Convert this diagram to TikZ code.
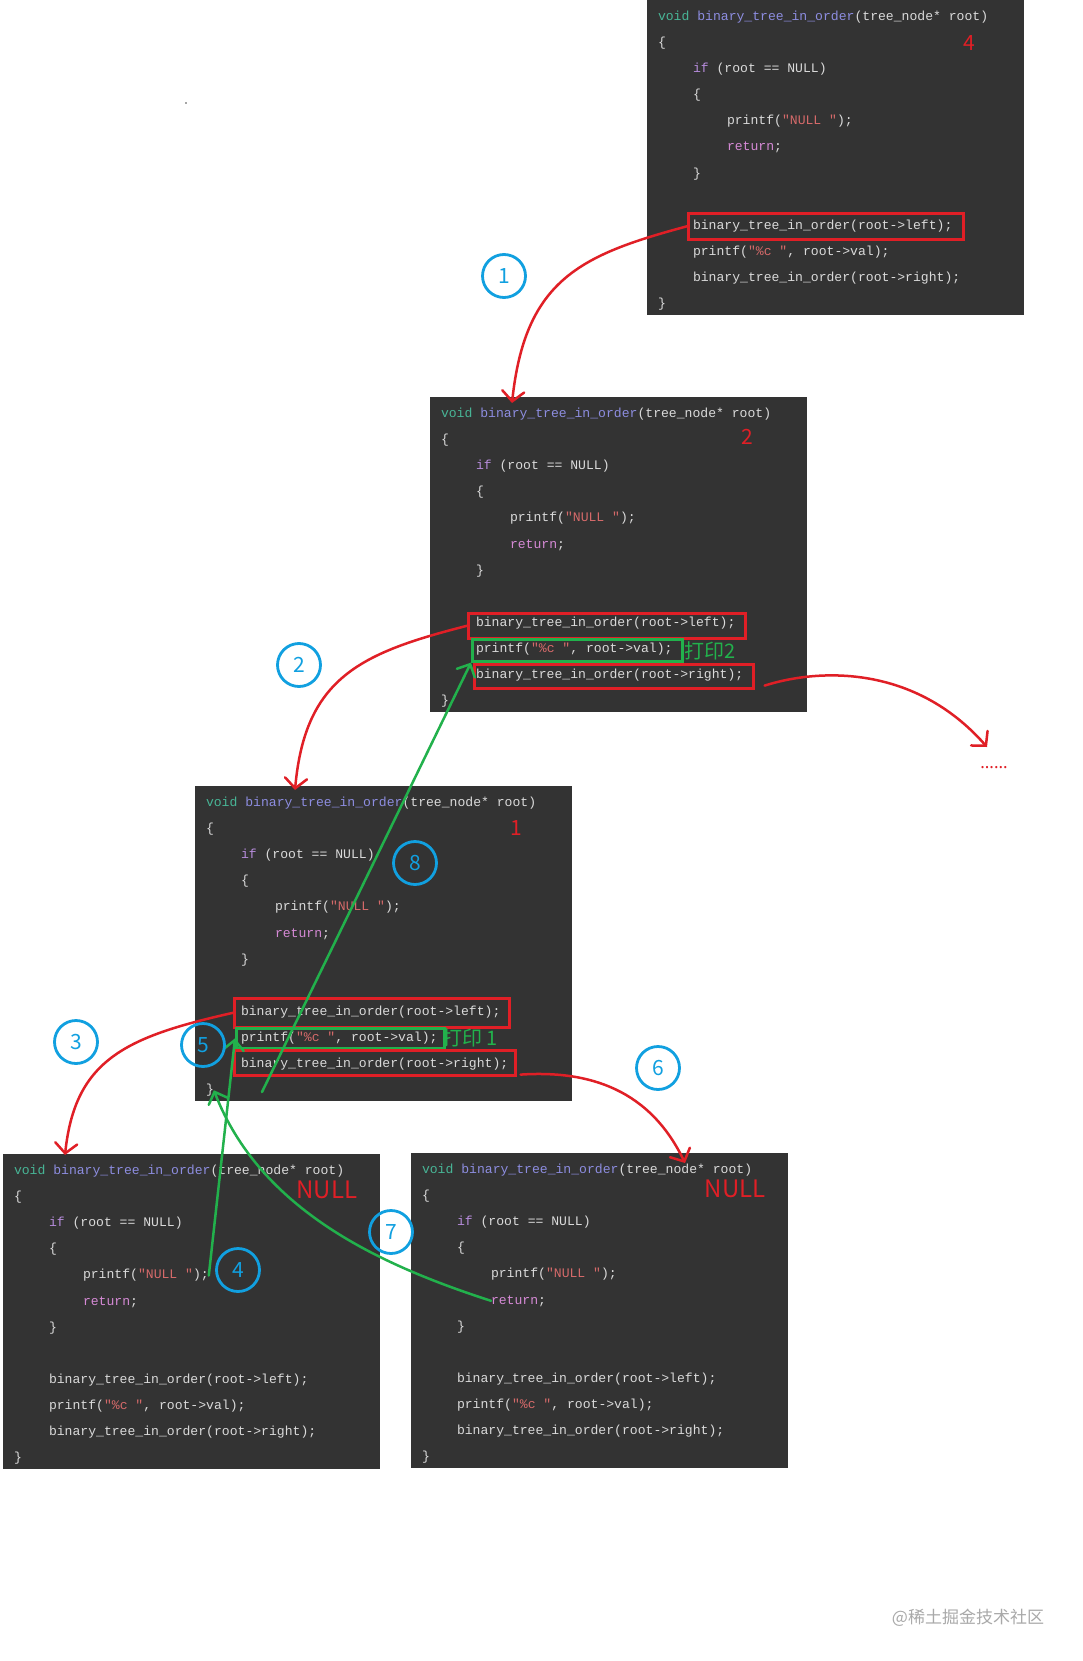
\documentclass[tikz,border=0pt]{standalone}
\usepackage{fontspec}
\setmonofont{Liberation Mono}
\newfontfamily\cjkfont{Noto Sans CJK SC}
\newfontfamily\latinsans{Noto Sans}
\usetikzlibrary{arrows.meta}
\definecolor{codebg}{HTML}{333333}
\definecolor{codefg}{HTML}{DADADA}
\definecolor{cvoidc}{HTML}{48B596}
\definecolor{cfnc}{HTML}{8D8DE0}
\definecolor{cifc}{HTML}{B68CDB}
\definecolor{cretc}{HTML}{D68AD6}
\definecolor{cstrc}{HTML}{D66A6A}
\definecolor{annred}{HTML}{E01F26}
\definecolor{anngreen}{HTML}{22B14C}
\definecolor{annblue}{HTML}{11A0E0}
\definecolor{wmgrey}{HTML}{A9A9A9}
\newcommand\cVoid[1]{\textcolor{cvoidc}{#1}}
\newcommand\cFn[1]{\textcolor{cfnc}{#1}}
\newcommand\cIf[1]{\textcolor{cifc}{#1}}
\newcommand\cRet[1]{\textcolor{cretc}{#1}}
\newcommand\cStr[1]{\textcolor{cstrc}{#1}}
\tikzset{
  bgbox/.style={anchor=north west, fill=codebg, draw=none, inner sep=0pt, minimum width=377pt, minimum height=315pt},
  code/.style={anchor=base west, inner sep=0pt, outer sep=0pt, text=codefg, font=\ttfamily\fontsize{13.1}{15}\selectfont},
  hlred/.style={anchor=north west, draw=annred, line width=2.6pt, inner sep=0pt},
  hlgreen/.style={anchor=north west, draw=anngreen, line width=2.6pt, inner sep=0pt},
  redarrow/.style={draw=annred, line width=2.5pt, line cap=round, line join=round, -{Straight Barb[length=10pt,width=22pt,line cap=round]}},
  greenarrow/.style={draw=anngreen, line width=2.5pt, line cap=round, line join=round, -{Straight Barb[length=10pt,width=20pt,line cap=round]}},
  numcirc/.style={circle, draw=annblue, line width=2.8pt, minimum size=43pt, inner sep=0pt, text=annblue, font=\cjkfont\fontsize{21}{21}\selectfont},
  redlbl/.style={inner sep=0pt, text=annred, font=\cjkfont\fontsize{21}{21}\selectfont},
  greenlbl/.style={anchor=west, inner sep=0pt, text=anngreen, font=\cjkfont\fontsize{20}{20}\selectfont},
}
\newcommand\codebox[3]{%
\begin{scope}[shift={(#2,#3)}]
\node[bgbox] (#1) at (0,0) {};
\node[code] (#1-0) at (11,20.5) {\cVoid{void} \cFn{binary\_tree\_in\_order}(tree\_node* root)};
\node[code] (#1-1) at (11,46.6) {\{};
\node[code] (#1-2) at (46,72.7) {\cIf{if} (root == NULL)};
\node[code] (#1-3) at (46,98.8) {\{};
\node[code] (#1-4) at (80,124.9) {printf(\cStr{"NULL "});};
\node[code] (#1-5) at (80,151) {\cRet{return};};
\node[code] (#1-6) at (46,177.1) {\}};
\node[code] (#1-8) at (46,229.3) {binary\_tree\_in\_order(root->left);};
\node[code] (#1-9) at (46,255.4) {printf(\cStr{"\%c "}, root->val);};
\node[code] (#1-10) at (46,281.5) {binary\_tree\_in\_order(root->right);};
\node[code] (#1-11) at (11,307.6) {\}};
\end{scope}}
\begin{document}
\begin{tikzpicture}[x=1pt,y=-1pt]
\fill[white] (0,0) rectangle (1082,1661);
\useasboundingbox (0,0) rectangle (1082,1661);
% code boxes
\codebox{A}{647}{0}
\codebox{B}{430}{397}
\codebox{C}{195}{786}
\codebox{D}{3}{1154}
\codebox{E}{411}{1153}
% highlight rectangles
\node[hlred, minimum width=275pt, minimum height=26pt] (rA) at (687,212) {};
\node[hlred, minimum width=277pt, minimum height=25pt] (rBl) at (467,612) {};
\node[hlgreen, minimum width=210pt, minimum height=22pt] (rBg) at (471,638) {};
\node[hlred, minimum width=279pt, minimum height=24pt] (rBr) at (473,663) {};
\node[hlred, minimum width=275pt, minimum height=29pt] (rCl) at (233,997) {};
\node[hlgreen, minimum width=208pt, minimum height=20pt] (rCg) at (235,1027) {};
\node[hlred, minimum width=281pt, minimum height=25pt] (rCr) at (233,1049) {};
% step labels
\node[redlbl] (nA) at (969,43) {4};
\node[redlbl] (nB) at (747,437) {2};
\node[redlbl] (nC) at (516,828) {1};
\node[redlbl, font=\cjkfont\fontsize{24}{24}\selectfont] (nD) at (327,1190) {NULL};
\node[redlbl, font=\cjkfont\fontsize{24}{24}\selectfont] (nE) at (735,1189) {NULL};
\node[greenlbl] (pB) at (684,651) {打印2};
\node[greenlbl] (pC) at (442,1038) {打印 1};
% free ends
\coordinate (tB) at (512,403);
\coordinate (tC) at (295,790);
\coordinate (tD) at (65,1155);
\coordinate (tE) at (685,1163);
\coordinate (tR) at (987,747);
\coordinate (g8s) at (262,1092);
% red call arrows
\draw[redarrow] (rA.west) .. controls (580,255) and (525,280) .. (tB);
\draw[redarrow] (rBl.west) .. controls (360,653) and (305,678) .. (tC);
\draw[redarrow] (rCl.west) .. controls (125,1037) and (75,1060) .. (tD);
\draw[redarrow] ([shift={(4pt,2pt)}]rCr.south east) .. controls (590,1070) and (650,1090) .. (tE);
\draw[redarrow] ([shift={(10pt,4pt)}]rBr.south east) .. controls (820,668) and (915,665) .. (tR);
\node[inner sep=0pt, text=annred, font=\latinsans\fontsize{17}{17}\selectfont] (dots) at (994,768) {......};
% green return arrows
\draw[greenarrow] (D-4.east) -- (rCg.west);
\draw[greenarrow] (E-5.west) .. controls (380,1265) and (260,1210) .. (C-11.east);
\draw[greenarrow] (g8s) -- (rBg.south west);
% numbered circles
\node[numcirc] (c1) at (504,276) {1};
\node[numcirc] (c2) at (299,665) {2};
\node[numcirc] (c3) at (76,1042) {3};
\node[numcirc] (c4) at (238,1270) {4};
\node[numcirc] (c5) at (203,1045) {5};
\node[numcirc] (c6) at (658,1068) {6};
\node[numcirc] (c7) at (391,1232) {7};
\node[numcirc] (c8) at (415,863) {8};
% stray dot and watermark
\fill[black!70] (186,103) circle (0.8);
\node[inner sep=0pt, text=wmgrey, font=\cjkfont\fontsize{17}{17}\selectfont] (wm) at (968,1618) {@稀土掘金技术社区};
\end{tikzpicture}
\end{document}
